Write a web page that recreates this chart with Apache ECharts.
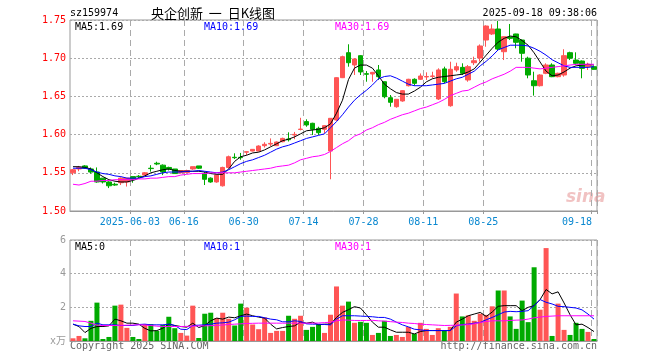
<!DOCTYPE html>
<html><head><meta charset="utf-8">
<script src="https://cdn.jsdelivr.net/npm/echarts@6/dist/echarts.min.js"></script>
<style>html,body{margin:0;padding:0;background:#fff}#c{width:660px;height:360px}</style>
</head><body><div id="c"></div>
<script>
const dates = ['2025-05-19','2025-05-20','2025-05-21','2025-05-22','2025-05-23','2025-05-26','2025-05-27','2025-05-28','2025-05-29','2025-05-30',
'2025-06-03','2025-06-04','2025-06-05','2025-06-06','2025-06-09','2025-06-10','2025-06-11','2025-06-12','2025-06-13','2025-06-16','2025-06-17','2025-06-18','2025-06-19','2025-06-20','2025-06-23','2025-06-24','2025-06-25','2025-06-26','2025-06-27','2025-06-30',
'2025-07-01','2025-07-02','2025-07-03','2025-07-04','2025-07-07','2025-07-08','2025-07-09','2025-07-10','2025-07-11','2025-07-14','2025-07-15','2025-07-16','2025-07-17','2025-07-18','2025-07-21','2025-07-22','2025-07-23','2025-07-24','2025-07-25','2025-07-28','2025-07-29','2025-07-30','2025-07-31',
'2025-08-01','2025-08-04','2025-08-05','2025-08-06','2025-08-07','2025-08-08','2025-08-11','2025-08-12','2025-08-13','2025-08-14','2025-08-15','2025-08-18','2025-08-19','2025-08-20','2025-08-21','2025-08-22','2025-08-25','2025-08-26','2025-08-27','2025-08-28','2025-08-29',
'2025-09-01','2025-09-02','2025-09-03','2025-09-04','2025-09-05','2025-09-08','2025-09-09','2025-09-10','2025-09-11','2025-09-12','2025-09-15','2025-09-16','2025-09-17','2025-09-18'];

const tickLabels = {'2025-06-03':'2025-06-03','2025-06-16':'06-16','2025-06-30':'06-30','2025-07-14':'07-14','2025-07-28':'07-28','2025-08-11':'08-11','2025-08-25':'08-25','2025-09-18':'09-18'};

const opens = [1.550,1.555,1.559,1.555,1.551,1.543,1.538,1.535,1.537,1.538,
1.545,1.5455,1.547,1.556,1.5625,1.560,1.557,1.555,1.550,1.5505,
1.555,1.559,1.549,1.543,1.538,1.533,1.557,1.5703,1.5703,1.577,
1.5785,1.5785,1.5855,1.5876,1.5855,1.5907,1.5942,1.5995,1.6067,1.617,
1.6148,1.6082,1.6069,1.5785,1.6191,1.6745,1.7072,1.6911,1.7033,1.6797,
1.6793,1.6846,1.6692,1.6483,1.6365,1.644,1.664,1.6724,1.6724,1.6755,
1.6762,1.6466,1.686,1.6378,1.6846,1.688,1.6715,1.6941,1.7002,1.7238,
1.7317,1.7382,1.7085,1.7278,1.7317,1.7238,1.700,1.6705,1.664,1.6802,
1.6911,1.6758,1.678,1.7072,1.6976,1.6963,1.6889,1.6889];
const closes = [1.554,1.557,1.556,1.551,1.538,1.538,1.533,1.534,1.543,1.543,
1.541,1.545,1.550,1.5555,1.5615,1.551,1.555,1.549,1.553,1.553,
1.558,1.556,1.5415,1.538,1.547,1.557,1.571,1.5698,1.5698,1.5776,
1.5807,1.585,1.5873,1.5885,1.5903,1.595,1.5933,1.6003,1.6072,1.6126,
1.6069,1.6025,1.6117,1.6213,1.6745,1.702,1.6941,1.699,1.682,1.679,
1.6815,1.6758,1.6496,1.6423,1.6462,1.6575,1.6724,1.6671,1.6767,1.676,
1.6767,1.6846,1.6692,1.6855,1.6889,1.6802,1.6889,1.6967,1.716,1.7421,
1.7382,1.712,1.7281,1.726,1.7208,1.7064,1.678,1.664,1.678,1.6911,
1.6758,1.6802,1.7033,1.700,1.6933,1.6867,1.692,1.6854];
const lows = [1.547,1.552,1.555,1.549,1.537,1.536,1.530,1.533,1.534,1.532,
1.537,1.543,1.547,1.5515,1.560,1.547,1.553,1.549,1.549,1.550,
1.554,1.555,1.534,1.537,1.537,1.532,1.556,1.568,1.567,1.573,
1.578,1.578,1.583,1.585,1.585,1.590,1.591,1.594,1.6055,1.6103,
1.5995,1.5995,1.6017,1.5415,1.618,1.674,1.6889,1.678,1.678,1.6692,
1.6692,1.6715,1.6475,1.6365,1.6352,1.643,1.663,1.664,1.6715,1.6715,
1.6737,1.6453,1.6671,1.6365,1.6823,1.678,1.6692,1.691,1.6954,1.715,
1.7304,1.7107,1.6976,1.7238,1.713,1.6954,1.6737,1.651,1.663,1.6791,
1.6752,1.675,1.6758,1.6976,1.6911,1.6737,1.6846,1.685];
const highs = [1.555,1.559,1.560,1.557,1.557,1.543,1.539,1.537,1.544,1.543,
1.545,1.547,1.551,1.560,1.5645,1.561,1.558,1.555,1.553,1.554,
1.558,1.559,1.551,1.544,1.548,1.558,1.5725,1.5755,1.576,1.578,
1.581,1.586,1.590,1.595,1.591,1.596,1.603,1.6035,1.622,1.620,
1.6155,1.6103,1.612,1.6215,1.675,1.7033,1.7182,1.700,1.704,1.6832,
1.682,1.6911,1.6695,1.6518,1.6465,1.658,1.673,1.6737,1.680,1.6815,
1.6823,1.6868,1.6889,1.6954,1.6941,1.6933,1.6911,1.702,1.718,1.743,
1.7444,1.7487,1.7285,1.7448,1.732,1.7245,1.702,1.6823,1.679,1.6933,
1.6933,1.681,1.7117,1.7085,1.7077,1.697,1.6941,1.689];

const ma5 = [1.558,1.558,1.557,1.555,1.550,1.545,1.541,1.539,1.538,1.538,
1.540,1.543,1.546,1.550,1.552,1.554,1.555,1.553,1.552,1.552,
1.552,1.552,1.551,1.549,1.548,1.548,1.555,1.565,1.571,1.573,
1.576,1.577,1.580,1.584,1.588,1.592,1.594,1.597,1.601,1.605,
1.606,1.607,1.609,1.614,1.628,1.645,1.672,1.687,1.691,1.691,
1.687,1.677,1.666,1.660,1.655,1.653,1.653,1.657,1.662,1.669,
1.673,1.675,1.676,1.677,1.678,1.679,1.682,1.686,1.695,1.704,
1.713,1.721,1.726,1.729,1.728,1.723,1.717,1.707,1.695,1.683,
1.677,1.678,1.682,1.687,1.690,1.691,1.692,1.691];
const ma10 = [1.556,1.556,1.556,1.554,1.551,1.549,1.548,1.546,1.545,1.543,
1.543,1.543,1.545,1.546,1.548,1.550,1.551,1.551,1.551,1.552,
1.552,1.553,1.552,1.551,1.550,1.551,1.554,1.558,1.562,1.565,
1.567,1.570,1.573,1.577,1.581,1.584,1.586,1.589,1.592,1.595,
1.597,1.599,1.601,1.609,1.617,1.626,1.636,1.645,1.652,1.658,
1.665,1.673,1.676,1.677,1.674,1.670,1.666,1.664,1.664,1.664,
1.665,1.666,1.667,1.670,1.673,1.675,1.679,1.683,1.690,1.696,
1.703,1.711,1.714,1.717,1.717,1.717,1.716,1.713,1.709,1.704,
1.698,1.694,1.690,1.688,1.688,1.688,1.688,1.689];
const ma30 = [1.535,1.534,1.536,1.539,1.539,1.540,1.540,1.541,1.541,1.541,
1.541,1.542,1.542,1.543,1.543,1.544,1.545,1.545,1.547,1.548,
1.549,1.549,1.549,1.550,1.550,1.550,1.550,1.550,1.551,1.552,
1.553,1.554,1.555,1.556,1.558,1.559,1.560,1.563,1.567,1.569,
1.571,1.572,1.574,1.578,1.583,1.588,1.592,1.598,1.601,1.606,
1.609,1.613,1.616,1.620,1.623,1.626,1.628,1.631,1.634,1.636,
1.639,1.642,1.646,1.651,1.654,1.657,1.658,1.662,1.666,1.669,
1.673,1.676,1.679,1.683,1.688,1.688,1.688,1.687,1.686,1.687,
1.688,1.689,1.690,1.691,1.692,1.692,1.692,1.692];

const volumes = [0.16,0.3,0.16,1.2,2.28,0.12,0.24,2.1,2.16,0.78,
0.24,0.12,1.0,1.0,0.6,0.96,1.44,0.76,0.48,0.32,
2.1,0.18,1.62,1.68,1.36,1.68,1.32,0.92,2.22,1.98,
0.98,0.7,1.4,0.48,0.6,0.6,1.5,1.32,1.5,0.66,
0.84,1.0,0.48,1.56,3.24,2.1,2.34,1.08,1.14,1.08,
0.36,0.48,1.2,0.3,0.36,0.24,0.84,0.42,1.08,0.72,
0.36,0.76,0.6,0.84,2.82,1.46,1.52,1.2,1.62,1.55,
2.06,3.0,3.0,1.46,0.72,2.4,1.12,4.38,1.86,5.52,
0.3,2.22,0.66,0.36,1.08,0.72,0.54,0.12];
const vma5 = [1.0,0.86,0.5,0.75,0.86,0.86,0.9,1.3,1.2,1.06,
1.06,1.0,0.75,0.6,0.62,0.76,1.0,0.92,0.86,0.82,
1.06,0.8,0.92,1.2,1.36,1.3,1.42,1.38,1.5,1.6,
1.5,1.42,1.36,1.0,0.72,0.8,0.86,0.9,1.12,1.06,
1.12,0.96,1.0,1.0,1.4,1.7,1.86,2.04,1.96,1.56,
1.12,0.82,0.82,0.66,0.52,0.52,0.52,0.42,0.56,0.62,
0.62,0.62,0.62,0.62,1.12,1.3,1.5,1.6,1.7,1.46,
1.72,2.06,2.1,2.1,2.1,1.8,2.0,2.1,2.46,3.06,
2.8,2.92,2.26,1.56,0.96,1.0,0.8,0.56];
const vma10 = [1.0,0.9,0.86,0.86,1.06,0.96,0.96,0.96,0.92,0.92,
0.92,0.98,1.0,0.96,0.96,0.96,1.0,0.92,0.7,0.68,
0.92,0.94,0.96,1.0,1.06,1.08,1.12,1.26,1.46,1.48,
1.46,1.46,1.38,1.3,1.26,1.14,1.14,1.2,1.16,1.02,
1.0,1.0,0.98,0.96,1.3,1.5,1.5,1.5,1.48,1.46,
1.44,1.4,1.4,1.3,1.12,0.96,0.84,0.7,0.66,0.62,
0.62,0.62,0.62,0.62,0.9,0.98,1.0,1.06,1.1,1.26,
1.4,1.56,1.72,1.76,1.74,1.76,1.8,2.1,2.46,2.3,
2.2,2.06,2.04,2.0,1.96,1.85,1.6,1.3];
const vma30 = [1.2,1.18,1.16,1.06,0.94,0.92,0.92,0.92,0.93,0.94,
0.95,0.96,0.95,0.92,0.88,0.86,0.86,0.86,0.86,0.87,
0.88,0.9,0.9,0.91,0.93,0.95,0.98,1.0,1.02,1.04,
1.05,1.06,1.06,1.06,1.06,1.06,1.06,1.06,1.06,1.06,
1.06,1.07,1.09,1.12,1.2,1.25,1.24,1.22,1.22,1.22,
1.23,1.2,1.18,1.15,1.12,1.1,1.06,1.04,1.0,0.98,
0.96,0.94,0.92,0.93,0.94,0.95,0.98,1.02,1.1,1.16,
1.2,1.2,1.2,1.22,1.24,1.25,1.3,1.38,1.42,1.46,
1.48,1.5,1.5,1.5,1.5,1.5,1.5,1.5];

const UP = '#ff5555', DOWN = '#00aa00';
const MONO = '"DejaVu Sans Mono", monospace';
const BLUE = '#0000ff', MAG = '#ff00ff';
const kData = dates.map((d, i) => [opens[i], closes[i], lows[i], highs[i]]);
const volData = volumes.map((v, i) => ({ value: v, itemStyle: { color: closes[i] > opens[i] ? UP : DOWN } }));
const showTick = (i) => tickLabels[dates[i]] !== undefined;
const last = (a) => a[a.length - 1];

const chart = echarts.init(document.getElementById('c'));
const splitV = { show: true, interval: (i) => showTick(i), lineStyle: { color: '#aaa', type: [6, 4], width: 1 } };
const lineS = (name, data, color, xi, yi) => ({
  name, type: 'line', data, xAxisIndex: xi, yAxisIndex: yi, symbol: 'none', z: 5,
  lineStyle: { color, width: 1 }, itemStyle: { color }, silent: true
});
const txt = (text, x, y, fill, opts) => Object.assign({
  type: 'text', x, y, silent: true,
  style: Object.assign({ text, fill, font: '10px ' + MONO, align: 'left', verticalAlign: 'middle' }, opts || {})
});

chart.setOption({
  animation: false,
  backgroundColor: '#fff',
  grid: [
    { left: 70, top: 20, width: 527, height: 191, show: true, borderColor: '#999', borderWidth: 1 },
    { left: 70, top: 240, width: 527, height: 101, show: true, borderColor: '#999', borderWidth: 1 }
  ],
  xAxis: [
    {
      type: 'category', gridIndex: 0, data: dates, boundaryGap: true,
      axisLine: { lineStyle: { color: '#999' } },
      axisTick: { show: true, interval: (i) => showTick(i), length: 3, lineStyle: { color: '#999' } },
      axisLabel: {
        interval: (i) => showTick(i), margin: 6,
        formatter: (v) => v === '2025-09-18' ? '{l|' + tickLabels[v] + '}' : '{n|' + tickLabels[v] + '}',
        rich: {
          n: { color: '#0a88d0', fontFamily: MONO, fontSize: 10, padding: [0, 6, 0, 0] },
          l: { color: '#0a88d0', fontFamily: MONO, fontSize: 10, padding: [0, 34, 0, 0] }
        }
      },
      splitLine: splitV
    },
    {
      type: 'category', gridIndex: 1, data: dates, boundaryGap: true,
      axisLine: { lineStyle: { color: '#999' } }, axisTick: { show: false },
      axisLabel: { show: false }, splitLine: splitV
    }
  ],
  yAxis: [
    {
      type: 'value', gridIndex: 0, min: 1.5, max: 1.75, interval: 0.05,
      axisLine: { show: false }, axisTick: { show: false },
      axisLabel: { color: '#ff0000', fontFamily: MONO, fontSize: 10, margin: 4, formatter: (v) => v.toFixed(2) },
      splitLine: { lineStyle: { color: '#aaa', type: [2, 2] } }
    },
    {
      type: 'value', gridIndex: 1, min: 0, max: 6, interval: 2,
      axisLine: { show: false }, axisTick: { show: false },
      axisLabel: { color: '#999', fontFamily: '"DejaVu Sans Mono","Noto Sans CJK SC",monospace', fontSize: 10, margin: 4,
        formatter: (v) => v === 0 ? 'x万' : String(v) },
      splitLine: { lineStyle: { color: '#aaa', type: [2, 2] } }
    }
  ],
  series: [
    {
      type: 'candlestick', data: kData, xAxisIndex: 0, yAxisIndex: 0, barWidth: 5, silent: true,
      itemStyle: { color: UP, color0: DOWN, borderColor: UP, borderColor0: DOWN, borderWidth: 1 }
    },
    lineS('MA5', ma5, '#000', 0, 0),
    lineS('MA10', ma10, BLUE, 0, 0),
    lineS('MA30', ma30, MAG, 0, 0),
    { type: 'bar', data: volData, xAxisIndex: 1, yAxisIndex: 1, barWidth: 5, silent: true },
    lineS('VMA5', vma5, '#000', 1, 1),
    lineS('VMA10', vma10, BLUE, 1, 1),
    lineS('VMA30', vma30, MAG, 1, 1)
  ],
  graphic: [
    txt('sz159974', 70, 13, '#000'),
    txt('央企创新  一  日K线图', 151, 13, '#000', { font: '13px "Noto Sans CJK SC"' }),
    txt('2025-09-18 09:38:06', 597, 13, '#000', { align: 'right' }),
    txt('MA5:' + last(ma5).toFixed(2), 75, 27, '#000'),
    txt('MA10:' + last(ma10).toFixed(2), 204, 27, BLUE),
    txt('MA30:' + last(ma30).toFixed(2), 335, 27, MAG),
    txt('MA5:' + Math.floor(last(vma5)), 75, 247, '#000'),
    txt('MA10:' + Math.floor(last(vma10)), 204, 247, BLUE),
    txt('MA30:' + Math.floor(last(vma30)), 335, 247, MAG),
    txt('Copyright 2025 SINA.COM', 70, 346, '#666'),
    txt('http://finance.sina.com.cn', 597, 346, '#666', { align: 'right' }),
    txt('sina', 566, 198, 'rgba(225,120,120,0.45)', { font: 'italic bold 17px "DejaVu Sans"' })
  ]
});
</script>
</body></html>
